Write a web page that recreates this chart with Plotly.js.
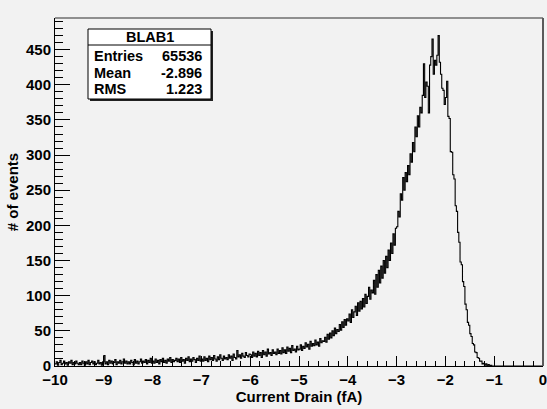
<!DOCTYPE html>
<html>
<head>
<meta charset="utf-8">
<script src="https://cdn.plot.ly/plotly-3.0.1.min.js"></script>
<style>
  html, body { margin: 0; padding: 0; background: #f2f2f2; }
  #chart { width: 547px; height: 409px; }
</style>
</head>
<body>
<div id="chart"></div>
<script>
// Histogram BLAB1 : 400 bins of 0.025 fA from -10 to 0
const binLow = -10;
const binWidth = 0.025;
const counts = [
  // -10 .. -9.5
  3,6,1,5,8,2,4,7,3,5,1,6,4,8,2,5,3,7,4,2,
  // -9.5 .. -9
  5,2,7,4,1,6,3,8,2,5,7,3,6,2,4,8,3,5,1,6,
  // -9 .. -8.5
  15,3,6,2,8,4,7,3,5,9,2,6,4,8,3,6,10,4,7,3,
  // -8.5 .. -8
  6,3,8,5,2,9,4,7,3,6,10,4,7,5,9,3,8,5,11,4,
  // -8 .. -7.5
  7,4,10,5,8,3,9,6,11,5,8,4,10,7,12,5,9,6,8,11,
  // -7.5 .. -7
  6,10,5,12,7,9,4,11,8,13,6,10,7,12,9,5,11,8,14,7,
  // -7 .. -6.5
  10,7,13,8,11,6,14,9,12,8,15,10,7,13,9,16,11,8,14,10,
  // -6.5 .. -6
  12,9,16,11,14,8,17,12,10,22,13,16,11,18,14,12,19,15,13,17,
  // -6 .. -5.5
  16,12,20,14,18,13,21,15,19,12,22,16,20,14,24,17,19,15,23,18,
  // -5.5 .. -5
  20,16,24,18,22,17,26,19,23,18,27,21,25,19,29,22,24,20,28,23,
  // -5 .. -4.5
  24,30,22,28,25,33,27,31,24,35,28,32,29,37,30,34,28,39,33,36,
  // -4.5 .. -4
  35,41,34,45,38,47,40,50,43,54,46,52,49,59,51,63,55,66,58,67,
  // -4 .. -3.5
  64,74,62,80,69,77,85,72,90,78,92,81,96,84,102,89,99,112,95,108,
  // -3.5 .. -3
  104,122,102,130,112,136,118,142,125,150,132,156,140,165,150,175,160,188,172,196,
  // -3 .. -2.5
  198,220,212,245,236,268,250,275,262,285,272,302,290,318,305,340,326,356,340,368,
  // -2.5 .. -2
  360,385,430,382,404,398,360,428,440,465,415,435,428,442,470,432,415,395,392,372,
  // -2 .. -1.5
  382,405,355,352,305,304,272,266,228,220,190,176,148,144,120,113,88,80,62,58,
  // -1.5 .. -1
  46,42,32,30,20,19,12,11,7,7,3,4,1,3,0,2,0,1,0,0,
  // -1 .. -0.5
  0,0,0,0,0,0,0,0,0,0,0,0,0,0,0,0,0,0,0,0,
  // -0.5 .. 0
  0,0,0,0,0,0,0,0,0,0,0,0,0,0,0,0,0,0,0,0
];
const histName = "BLAB1";
const statLabels = ["Entries", "Mean", "RMS"];
const statValues = ["65536", "-2.896", "1.223"];
const xTitle = "Current Drain (fA)";
const yTitle = "# of events";

// build step outline through bin edges
const edges = counts.map((_, i) => binLow + i * binWidth);
edges.push(binLow + counts.length * binWidth);
const ys = counts.slice();
ys.push(counts[counts.length - 1]);

const FONT = "Liberation Sans, Arial, Helvetica, sans-serif";
const bold = (size) => ({ family: FONT, size: size, color: "#000", weight: 700 });

const trace = {
  type: "scatter",
  mode: "lines",
  x: edges,
  y: ys,
  line: { shape: "hv", color: "#000", width: 1.1 },
  hoverinfo: "skip"
};

// paper coordinates of the stats box (plot area 55..543 x 18..366 px)
const px = (v) => (v - 55) / 488;
const py = (v) => (366 - v) / 348;

const shapes = [
  { type: "line", xref: "paper", yref: "paper", x0: 0, x1: 1, y0: 1, y1: 1,
    line: { color: "#6e6e6e", width: 1.5 } },
  { type: "line", xref: "paper", yref: "paper", x0: 1, x1: 1, y0: 0, y1: 1,
    line: { color: "#5a5a5a", width: 2 } },
  { type: "rect", xref: "paper", yref: "paper",
    x0: px(90), x1: px(213), y0: py(101), y1: py(31),
    fillcolor: "#222", line: { width: 0 } },
  { type: "rect", xref: "paper", yref: "paper",
    x0: px(88), x1: px(211), y0: py(99), y1: py(29),
    fillcolor: "#ffffff", line: { color: "#000", width: 1 } },
  { type: "line", xref: "paper", yref: "paper",
    x0: px(88), x1: px(211), y0: py(45), y1: py(45),
    line: { color: "#000", width: 1 } }
];

const rowY = [56, 72.7, 89.3];
const annotations = [
  { xref: "paper", yref: "paper", x: px(149.5), y: py(37.5), text: histName,
    showarrow: false, xanchor: "center", yanchor: "middle", font: bold(14.5) }
];
statLabels.forEach((lab, i) => {
  annotations.push({ xref: "paper", yref: "paper", x: px(92), y: py(rowY[i]), text: lab,
    showarrow: false, xanchor: "left", yanchor: "middle", font: bold(14.5) });
  annotations.push({ xref: "paper", yref: "paper", x: px(204), y: py(rowY[i]), text: statValues[i],
    showarrow: false, xanchor: "right", yanchor: "middle", font: bold(14.5) });
});

const layout = {
  width: 547,
  height: 409,
  margin: { l: 55, r: 4, t: 18, b: 43 },
  paper_bgcolor: "#f2f2f2",
  plot_bgcolor: "#f2f2f2",
  showlegend: false,
  xaxis: {
    range: [-10, 0],
    tick0: -10,
    dtick: 1,
    ticks: "inside",
    ticklen: 10,
    tickwidth: 1,
    tickcolor: "#000",
    showline: true,
    linecolor: "#000",
    linewidth: 1,
    showgrid: false,
    zeroline: false,
    tickfont: bold(15),
    ticklabeloverflow: "allow",
    minor: { dtick: 0.2, ticks: "inside", ticklen: 5, tickcolor: "#000", showgrid: false },
    title: { text: xTitle, font: bold(15), standoff: 3 }
  },
  yaxis: {
    range: [0, 495],
    tick0: 0,
    dtick: 50,
    ticks: "inside",
    ticklen: 15,
    tickwidth: 1,
    tickcolor: "#000",
    showline: true,
    linecolor: "#000",
    linewidth: 1,
    showgrid: false,
    zeroline: false,
    tickfont: bold(15),
    minor: { dtick: 10, ticks: "inside", ticklen: 8, tickcolor: "#000", showgrid: false },
    title: { text: yTitle, font: bold(15), standoff: 3 }
  },
  shapes: shapes,
  annotations: annotations
};

Plotly.newPlot("chart", [trace], layout, { staticPlot: true, displayModeBar: false });
</script>
</body>
</html>
